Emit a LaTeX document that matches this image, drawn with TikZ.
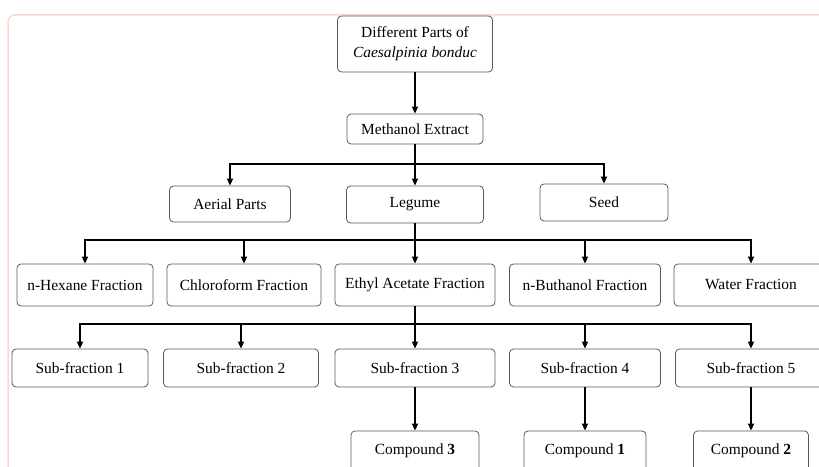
\documentclass[tikz,border=0pt]{standalone}
\usepackage{fontspec}
\setmainfont{Liberation Serif}
\usetikzlibrary{arrows.meta}
\definecolor{cardline}{HTML}{F6D9CC}
\definecolor{boxline}{HTML}{5A5A5A}

\begin{document}
\begin{tikzpicture}[x=1bp, y=-1bp, >={Triangle[length=7bp,width=6bp]},
    box/.style={draw=boxline, line width=0.8bp, rounded corners=4bp, fill=white,
        inner sep=0pt, align=center, font=\fontsize{15.5}{20}\selectfont},
    link/.style={->, line width=1.7bp, black}]
    \useasboundingbox (0,0) rectangle (819,467);
    \clip (0,0) rectangle (819,467);
    % card outline
    \draw[cardline, line width=1.5bp, rounded corners=7bp] (8,490) -- (8,15) -- (840,15);
    % levels
    \node[box, minimum width=155bp, minimum height=56bp] (top) at (415,44)
        {Different Parts of\\\textit{Caesalpinia bonduc}};
    \node[box, minimum width=136bp, minimum height=30bp] (meth) at (415,129) {Methanol Extract};
    \node[box, minimum width=121bp, minimum height=36bp] (aerial) at (230,204) {Aerial Parts};
    \node[box, minimum width=137bp, minimum height=37bp] (legume) at (415,204.5) {Legume};
    \node[box, minimum width=128bp, minimum height=37bp] (seed) at (604,202.5) {Seed};
    \node[box, minimum width=136bp, minimum height=42bp] (hexane) at (85,285) {n-Hexane Fraction};
    \node[box, minimum width=154bp, minimum height=42bp] (chloro) at (244,285) {Chloroform Fraction};
    \node[box, minimum width=160bp, minimum height=42bp] (ethyl) at (415,285) {Ethyl Acetate Fraction};
    \node[box, minimum width=151bp, minimum height=42bp] (butha) at (585,285) {n-Buthanol Fraction};
    \node[box, minimum width=154bp, minimum height=42bp] (water) at (751,285) {Water Fraction};
    \node[box, minimum width=136bp, minimum height=38bp] (sub1) at (80,368) {Sub-fraction 1};
    \node[box, minimum width=155bp, minimum height=38bp] (sub2) at (241,368) {Sub-fraction 2};
    \node[box, minimum width=160bp, minimum height=38bp] (sub3) at (415,368) {Sub-fraction 3};
    \node[box, minimum width=151bp, minimum height=38bp] (sub4) at (585,368) {Sub-fraction 4};
    \node[box, minimum width=151bp, minimum height=38bp] (sub5) at (751,368) {Sub-fraction 5};
    \node[box, minimum width=128bp, minimum height=40bp] (comp3) at (415,451) {Compound \textbf{3}};
    \node[box, minimum width=122bp, minimum height=40bp] (comp1) at (585,451) {Compound \textbf{1}};
    \node[box, minimum width=115bp, minimum height=40bp] (comp2) at (751,451) {Compound \textbf{2}};
    % connectors
    \coordinate (b1) at (415,164);
    \coordinate (b2) at (415,240);
    \coordinate (b3) at (415,324);
    \draw[link] (top.south) -- (meth.north);
    \draw[link] (meth.south) -- (legume.north);
    \draw[link] (b1) -| (aerial.north);
    \draw[link] (b1) -| (seed.north);
    \draw[link] (legume.south) -- (ethyl.north);
    \draw[link] (b2) -| (hexane.north);
    \draw[link] (b2) -| (chloro.north);
    \draw[link] (b2) -| (butha.north);
    \draw[link] (b2) -| (water.north);
    \draw[link] (ethyl.south) -- (sub3.north);
    \draw[link] (b3) -| (sub1.north);
    \draw[link] (b3) -| (sub2.north);
    \draw[link] (b3) -| (sub4.north);
    \draw[link] (b3) -| (sub5.north);
    \draw[link] (sub3.south) -- (comp3.north);
    \draw[link] (sub4.south) -- (comp1.north);
    \draw[link] (sub5.south) -- (comp2.north);
\end{tikzpicture}
\end{document}
